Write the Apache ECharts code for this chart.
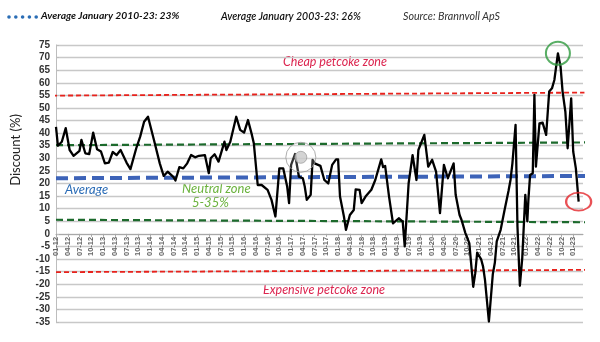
<!DOCTYPE html>
<html>
<head>
<meta charset="utf-8">
<script src="https://cdn.jsdelivr.net/npm/echarts@6/dist/echarts.min.js"></script>
<style>
  html, body { margin: 0; padding: 0; background: #ffffff; }
  #chart { width: 600px; height: 342px; }
</style>
</head>
<body>
<div id="chart"></div>
<script>
// Petcoke discount (%), observation dates and values
const dates = [
  '2012-01-01','2012-01-16','2012-02-16','2012-03-16','2012-04-16','2012-05-16','2012-07-01','2012-07-16',
  '2012-08-16','2012-09-16','2012-10-16','2012-11-16','2012-12-16','2013-01-16','2013-02-16','2013-03-16',
  '2013-04-16','2013-05-16','2013-07-01','2013-08-01','2013-08-16','2013-09-16','2013-10-16','2013-11-16',
  '2013-12-16','2014-02-01','2014-03-16','2014-04-16','2014-05-16','2014-07-01','2014-07-16','2014-08-16',
  '2014-09-16','2014-10-16','2014-11-16','2014-12-16','2015-01-16','2015-03-01','2015-04-01','2015-04-16',
  '2015-05-16','2015-06-16','2015-08-01','2015-08-16','2015-09-16','2015-11-01','2015-12-01','2016-01-01',
  '2016-02-01','2016-03-01','2016-03-16','2016-04-16','2016-05-16','2016-07-01','2016-08-01','2016-09-01',
  '2016-10-01','2016-11-01','2016-12-01','2016-12-16','2017-01-01','2017-02-01','2017-03-01','2017-04-01',
  '2017-04-16','2017-05-01','2017-06-01','2017-06-16','2017-07-01','2017-08-16','2017-09-16','2017-10-16',
  '2017-11-16','2017-12-16','2018-01-01','2018-01-16','2018-02-16','2018-03-01','2018-04-01','2018-05-01',
  '2018-05-16','2018-06-16','2018-07-01','2018-08-01','2018-09-16','2018-10-16','2018-12-01','2018-12-16',
  '2019-01-01','2019-02-01','2019-03-01','2019-04-16','2019-05-16','2019-06-01','2019-07-01','2019-08-01',
  '2019-09-01','2019-09-16','2019-11-01','2019-12-01','2020-01-01','2020-02-01','2020-03-01','2020-04-01',
  '2020-05-01','2020-06-16','2020-07-01','2020-08-01','2020-08-16','2020-09-16','2020-10-16','2020-11-16',
  '2020-12-01','2020-12-16','2021-01-16','2021-02-01','2021-02-16','2021-03-16','2021-04-16','2021-05-01',
  '2021-05-16','2021-06-16','2021-07-16','2021-08-16','2021-09-01','2021-09-16','2021-10-10','2021-10-25',
  '2021-11-13','2021-12-01','2021-12-25','2022-01-10','2022-01-19','2022-02-01','2022-02-22','2022-03-04',
  '2022-03-16','2022-04-13','2022-05-07','2022-06-04','2022-06-28','2022-07-19','2022-08-07','2022-09-04',
  '2022-09-25','2022-10-10','2022-11-01','2022-11-19','2022-12-16','2023-01-01','2023-01-22','2023-02-13'
];
const discount = [
  42.5, 35, 36.6, 42, 33.3, 31, 33, 37.3,
  32, 31.7, 40.2, 33.6, 32.7, 28, 28.3, 32.5,
  31.3, 33.3, 28.3, 25.7, 25, 34, 38.6, 44.5,
  46.5, 37.3, 28, 23, 24.7, 22.5, 21.2, 26.5,
  26, 28, 31.3, 30.4, 31, 31.3, 24.1, 30,
  31.6, 28.7, 36.6, 33.3, 36.6, 46.5, 41.3, 40.2,
  45.2, 39.3, 36, 19.4, 19.4, 17.5, 13.5, 6.9,
  26, 26, 18.8, 12.2, 27.4, 31.7, 22.7, 22.1,
  18.8, 13.5, 15.5, 29.4, 28, 27, 21.4, 20,
  27.4, 29.6, 29.6, 14.8, 6.9, 1.6, 7.5, 9.5,
  17.7, 17.5, 12.2, 14.8, 17.5, 21.4, 29.6, 26.5,
  27, 14.8, 4.2, 6.2, 4.9, -5, 20.1, 31.3,
  21.4, 33.3, 39.3, 26.7, 29.4, 24.7, 8.2, 27.4,
  22.1, 28, 15.5, 7.5, 5.6, 0.3, -3.7, -21,
  -15.6, -7.5, -10, -13, -18.3, -34.8, -16, -11.5,
  -3, 1.6, 9.5, 17, 21.4, 28, 43.3, 2.9,
  -20.6, -9.5, 15.5, 5, 14, 23.4, 24.1, 55.2,
  26.7, 43.9, 44.2, 39.3, 56.5, 57.8, 61.1, 71.7,
  66.4, 56.5, 48.5, 34, 53.8, 32.7, 26, 12.8
];

// Quarterly tick labels (MM-YY)
const tickLabels = [
  '01-12','04-12','07-12','10-12','01-13','04-13','07-13','10-13','01-14','04-14','07-14','10-14',
  '01-15','04-15','07-15','10-15','01-16','04-16','07-16','10-16','01-17','04-17','07-17','10-17',
  '01-18','04-18','07-18','10-18','01-19','04-19','07-19','10-19','01-20','04-20','07-20','10-20',
  '01-21','04-21','07-21','10-21','01-22','04-22','07-22','10-22','01-23'
];

// Zone boundaries and average: value at start and end, span as dates
const cheapLine     = { from: '2011-12-01', to: '2023-03-28', values: [54.9, 56.1] };
const neutralHigh   = { from: '2012-01-01', to: '2023-04-12', values: [35.2, 36.3] };
const averageLine   = { from: '2012-01-01', to: '2023-06-01', values: [22.1, 23.0] };
const neutralLow    = { from: '2012-01-01', to: '2023-05-01', values: [5.6, 4.6] };
const expensiveLine = { from: '2012-01-01', to: '2023-04-20', values: [-15.2, -14.3] };

// Highlighted reading in 2017
const highlight2017 = { date: '2017-03-16', value: 30.4 };

function monthIndex(s) {
  const [y, m, d] = s.split('-').map(Number);
  return (y - 2012) * 12 + (m - 1) + (d - 1) / 31;
}

const linePoints = dates.map((d, i) => [monthIndex(d), discount[i]]);
const peakIdx = discount.indexOf(Math.max(...discount));
const lastIdx = discount.length - 1;

function refLine(def, color, width, dash) {
  return {
    type: 'line',
    data: [[monthIndex(def.from), def.values[0]], [monthIndex(def.to), def.values[1]]],
    symbol: 'none',
    clip: false,
    silent: true,
    z: 2,
    lineStyle: { color: color, width: width, type: dash }
  };
}

// Plot frame and value range; the month axis runs along the zero line
const GRID = { left: 56, right: 17, top: 45, bottom: 20 };
const CHART_H = 342;
const Y_MIN = -35, Y_MAX = 75;
const plotH = CHART_H - GRID.top - GRID.bottom;
const zeroLift = plotH * (0 - Y_MIN) / (Y_MAX - Y_MIN);

const chart = echarts.init(document.getElementById('chart'), null, { renderer: 'canvas' });

const italic = (size, weight) => `italic ${weight || 'normal'} ${size}px Lato, "Noto Sans", sans-serif`;

chart.setOption({
  animation: false,
  backgroundColor: '#ffffff',
  grid: Object.assign({ containLabel: false, outerBoundsMode: 'none' }, GRID),
  xAxis: {
    type: 'value',
    min: 0,
    max: 134.5,
    interval: 3,
    offset: -zeroLift,
    axisLine: { onZero: false, lineStyle: { color: '#a8a8a8', width: 1 } },
    axisTick: { show: true, length: 3, lineStyle: { color: '#a8a8a8' } },
    splitLine: { show: false },
    axisLabel: {
      rotate: 90,
      margin: 3,
      fontSize: 7.5,
      fontWeight: 'bold',
      fontFamily: '"Liberation Sans", Arial, sans-serif',
      color: '#666',
      showMaxLabel: false,
      formatter: v => {
        const i = Math.round(v / 3);
        return Math.abs(v - i * 3) < 1e-6 && tickLabels[i] ? tickLabels[i] : '';
      }
    }
  },
  yAxis: {
    type: 'value',
    min: Y_MIN,
    max: Y_MAX,
    interval: 5,
    axisLine: { show: true, onZero: false, lineStyle: { color: '#bdbdbd' } },
    axisTick: { show: true, inside: true, length: 3, lineStyle: { color: '#bdbdbd' } },
    splitLine: { show: true, lineStyle: { color: '#c8c8c8', width: 1.3 } },
    axisLabel: {
      margin: 6,
      fontSize: 10,
      fontWeight: 'bold',
      fontFamily: '"Liberation Sans", Arial, sans-serif',
      color: '#333'
    }
  },
  series: [
    refLine(cheapLine, '#e8221c', 1.8, [5, 3]),
    refLine(neutralHigh, '#1c6a2c', 2.2, [7, 4]),
    refLine(averageLine, '#3d63b8', 4, [12, 6]),
    refLine(neutralLow, '#1c6a2c', 2.2, [7, 4]),
    refLine(expensiveLine, '#e8221c', 1.8, [5, 3]),
    {
      type: 'line',
      data: linePoints,
      symbol: 'none',
      z: 5,
      lineStyle: { color: '#000000', width: 2.3, join: 'round' }
    },
    {
      // circled readings: 2022 peak and latest value
      type: 'scatter',
      z: 6,
      silent: true,
      data: [
        { value: linePoints[peakIdx], symbolSize: [24, 23],
          itemStyle: { color: 'rgba(0,0,0,0)', borderColor: '#2f9a3e', borderWidth: 2 } },
        { value: linePoints[lastIdx], symbolSize: [25, 18],
          itemStyle: { color: 'rgba(0,0,0,0)', borderColor: '#e3262a', borderWidth: 2 } },
        { value: [monthIndex(highlight2017.date), highlight2017.value], symbolSize: [30, 30],
          itemStyle: { color: 'rgba(255,255,255,0.25)', borderColor: '#9a9a9a', borderWidth: 1 } },
        { value: [monthIndex(highlight2017.date), highlight2017.value], symbolSize: [12, 12],
          itemStyle: { color: '#c9c9c9', borderColor: '#8f8f8f', borderWidth: 0.8 } }
      ]
    }
  ],
  graphic: [
    // header: dotted marker and summary texts
    ...[0, 1, 2, 3, 4].map(i => ({
      type: 'circle', shape: { cx: 9 + i * 6.8, cy: 17, r: 1.8 }, style: { fill: '#2a6db5' }
    })),
    { type: 'text', left: 41, top: 11,
      style: { text: 'Average January 2010-23: 23%', font: italic(10.3, 'bold'), fill: '#111' } },
    { type: 'text', left: 221, top: 11,
      style: { text: 'Average January 2003-23: 26%', font: italic(10.5, '600'), fill: '#111' } },
    { type: 'text', left: 403, top: 11,
      style: { text: 'Source: Brannvoll ApS', font: italic(10.7), fill: '#333' } },
    // axis title
    { type: 'text', x: 16, y: 150, rotation: Math.PI / 2,
      style: { text: 'Discount (%)', font: '13px Lato, "Noto Sans", sans-serif', fill: '#222',
               align: 'center', verticalAlign: 'middle' } },
    // zone annotations
    { type: 'text', left: 283, top: 55,
      style: { text: 'Cheap petcoke zone', font: italic(12.5), fill: '#dc2650' } },
    { type: 'text', left: 263, top: 283,
      style: { text: 'Expensive petcoke zone', font: italic(12.5), fill: '#dc2650' } },
    { type: 'text', left: 65, top: 183,
      style: { text: 'Average', font: italic(13), fill: '#2b6cb6' } },
    { type: 'text', left: 182, top: 182,
      style: { text: 'Neutral zone', font: italic(13), fill: '#6cb33e' } },
    { type: 'text', left: 192, top: 196,
      style: { text: '5-35%', font: italic(13), fill: '#6cb33e' } }
  ]
});
</script>
</body>
</html>
